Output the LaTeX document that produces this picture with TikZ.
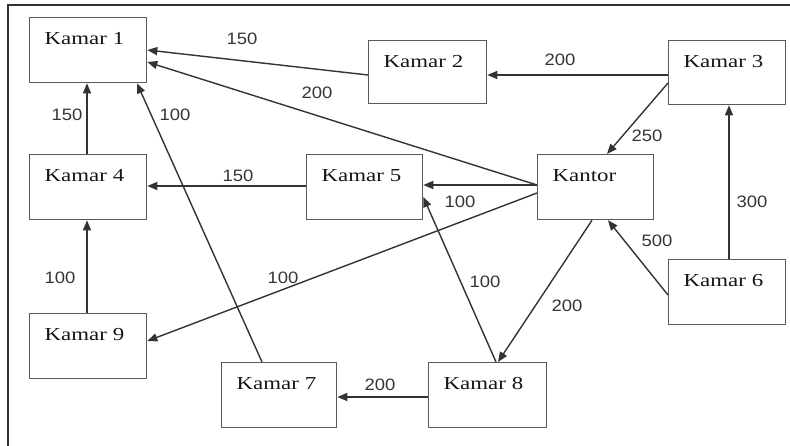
\documentclass[tikz,border=0pt]{standalone}
\usepackage{fontspec}
\usetikzlibrary{arrows.meta,calc}
\newfontfamily\boxfont[FakeStretch=1.25]{Liberation Serif}
\newfontfamily\numfont[FakeStretch=1.12]{Liberation Sans}
\definecolor{boxline}{HTML}{5A5A5A}
\definecolor{linec}{HTML}{333333}
\definecolor{txtc}{HTML}{151515}
\definecolor{numc}{HTML}{353535}
\begin{document}
\begin{tikzpicture}[x=1pt,y=-1pt,
  room/.style={draw=boxline, line width=1.3pt, rectangle, anchor=north west,
    inner xsep=15pt, inner ysep=0pt, text width=#1, align=left,
    text height=27pt, text depth=38pt,
    font=\boxfont\fontsize{18.3}{18.3}\selectfont, text=txtc},
  room/.default=87pt,
  lab/.style={font=\numfont\fontsize{16.5}{16.5}\selectfont, text=numc, inner sep=0pt},
  conn/.style={draw=linec, line width=1.4pt, -{Triangle[length=10pt,width=8pt]}},
  frame/.style={draw=linec, line width=1.5pt}]
\useasboundingbox (0,0) rectangle (790,446);
% frame
\coordinate (f1) at (790,5);
\coordinate (f2) at (8,5);
\coordinate (f3) at (8,446);
\draw[frame] (f1) -- (f2) -- (f3);
% rooms
\node[room] (k1) at (29,17) {Kamar 1};
\node[room=88pt, text depth=36pt] (k2) at (368,40) {Kamar 2};
\node[room, text depth=37pt] (k3) at (668,40) {Kamar 3};
\node[room] (k4) at (29,154) {Kamar 4};
\node[room=86pt] (k5) at (306,154) {Kamar 5};
\node[room=86pt] (kan) at (537,154) {Kantor};
\node[room] (k6) at (668,259) {Kamar 6};
\node[room] (k9) at (29,313) {Kamar 9};
\node[room=85pt] (k7) at (221,362) {Kamar 7};
\node[room=88pt] (k8) at (428,362) {Kamar 8};
% connectors
\draw[conn] ($(k2.north west)+(0,35)$) -- ($(k1.north east)+(0,33)$);
\draw[conn] ($(kan.north west)+(0,31)$) -- ($(k1.north east)+(0,45)$);
\draw[conn] ($(k3.north west)+(0,35)$) -- ($(k2.north east)+(0,35)$);
\draw[conn] ($(k3.north west)+(0,43)$) -- ($(kan.north west)+(70,0)$);
\draw[conn] ($(k4.north west)+(58,0)$) -- ($(k1.south west)+(58,0)$);
\draw[conn] ($(k5.north west)+(0,32)$) -- ($(k4.north east)+(0,32)$);
\draw[conn] ($(k7.north west)+(41,0)$) -- ($(k1.south west)+(108,0)$);
\draw[conn] ($(kan.north west)+(0,31)$) -- ($(k5.north east)+(0,31)$);
\draw[conn] ($(kan.north west)+(0,39)$) -- ($(k9.north east)+(0,28)$);
\draw[conn] ($(k8.north west)+(68,0)$) -- ($(k5.north east)+(0,43)$);
\draw[conn] ($(kan.south west)+(55,0)$) -- ($(k8.north west)+(70,0)$);
\draw[conn] ($(k6.north west)+(0,36)$) -- ($(kan.south west)+(71,0)$);
\draw[conn] ($(k6.north west)+(61,0)$) -- ($(k3.south west)+(61,0)$);
\draw[conn] ($(k8.north west)+(0,35)$) -- ($(k7.north east)+(0,35)$);
\draw[conn] ($(k9.north west)+(58,0)$) -- ($(k4.south west)+(58,0)$);
% labels
\node[lab] (l1) at (242,39) {150};
\node[lab] (l2) at (317,93) {200};
\node[lab] (l3) at (560,60) {200};
\node[lab] (l4) at (647,136) {250};
\node[lab] (l5) at (67,115) {150};
\node[lab] (l6) at (238,176) {150};
\node[lab] (l7) at (175,115) {100};
\node[lab] (l8) at (460,202) {100};
\node[lab] (l9) at (283,278) {100};
\node[lab] (l10) at (485,282) {100};
\node[lab] (l11) at (567,306) {200};
\node[lab] (l12) at (657,241) {500};
\node[lab] (l13) at (752,202) {300};
\node[lab] (l14) at (380,385) {200};
\node[lab] (l15) at (60,278) {100};
\end{tikzpicture}
\end{document}
